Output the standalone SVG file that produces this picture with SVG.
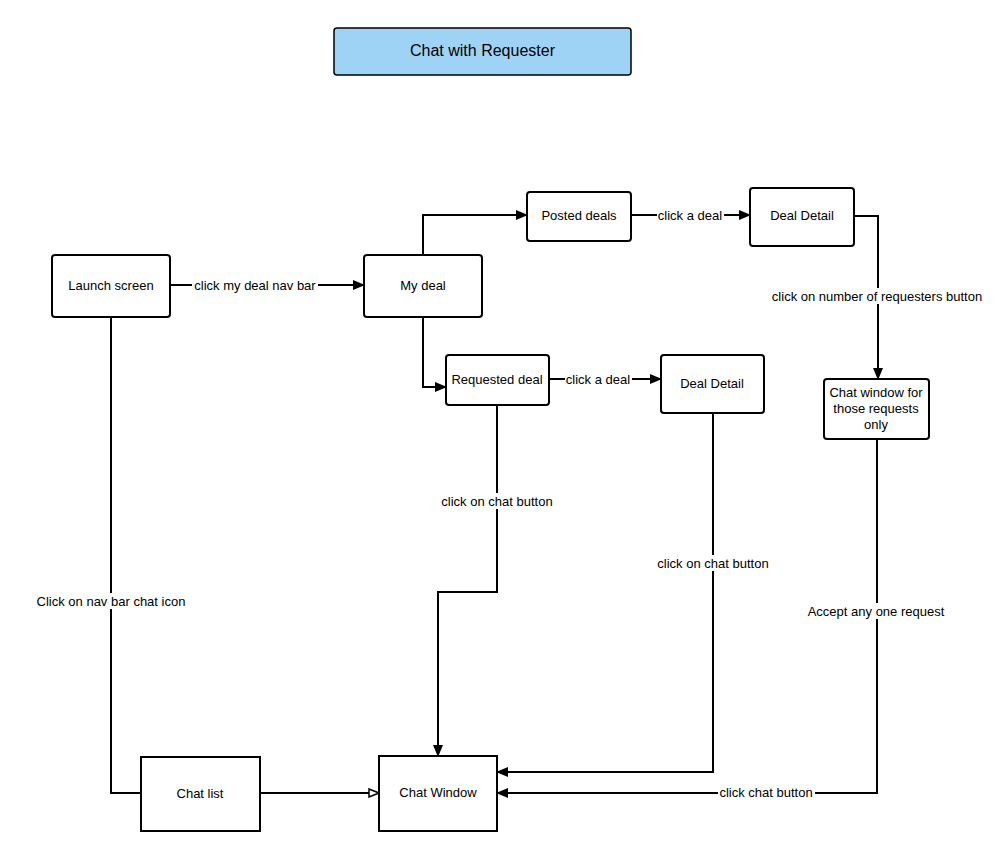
<svg xmlns="http://www.w3.org/2000/svg" width="1000" height="868" viewBox="0 0 1000 868">
<style>
.n{fill:#fff;stroke:#000;stroke-width:2}
.t{font-family:"Liberation Sans",Arial,sans-serif;font-size:13px;fill:#000;text-anchor:middle;dominant-baseline:central}
.c{fill:none;stroke:#000;stroke-width:2}
.lb{fill:#fff}
</style>
<defs>
<marker id="a" markerWidth="12" markerHeight="10" refX="11" refY="5" orient="auto" markerUnits="userSpaceOnUse"><path d="M0,0L12,5L0,10z" fill="#000"/></marker>
<marker id="h" markerWidth="12" markerHeight="10" refX="11" refY="5" orient="auto" markerUnits="userSpaceOnUse"><path d="M1,1L11,5L1,9z" fill="#fff" stroke="#000" stroke-width="1.5"/></marker>
</defs>
<rect width="1000" height="868" fill="#fff"/>
<g id="title"><rect x="334" y="28" width="297" height="47" rx="3" fill="#9fd3f6" stroke="#000" stroke-width="1.5"/><text class="t" x="482.5" y="50" style="font-size:16px">Chat with Requester</text></g>
<g id="connectors">
<path class="c" d="M170,285H364" marker-end="url(#a)"/>
<path class="c" d="M423,255V215H527" marker-end="url(#a)"/>
<path class="c" d="M423,317V387H446" marker-end="url(#a)"/>
<path class="c" d="M631,215H750" marker-end="url(#a)"/>
<path class="c" d="M549,379H661" marker-end="url(#a)"/>
<path class="c" d="M854,216H878V379" marker-end="url(#a)"/>
<path class="c" d="M497,405V592H438V756" marker-end="url(#a)"/>
<path class="c" d="M713,413V772H497" marker-end="url(#a)"/>
<path class="c" d="M877,439V793H497" marker-end="url(#a)"/>
<path class="c" d="M111,317V793H141"/>
<path class="c" d="M260,793H379" marker-end="url(#h)"/>
<rect class="lb" x="192" y="277" width="126" height="16"/><text class="t" x="255" y="285">click my deal nav bar</text>
<rect class="lb" x="657" y="207" width="67" height="16"/><text class="t" x="690" y="215">click a deal</text>
<rect class="lb" x="565" y="371" width="67" height="16"/><text class="t" x="598" y="379">click a deal</text>
<rect class="lb" x="770" y="288" width="215" height="16"/><text class="t" x="877" y="296">click on number of requesters button</text>
<rect class="lb" x="440" y="493" width="115" height="16"/><text class="t" x="497" y="501">click on chat button</text>
<rect class="lb" x="656" y="555" width="115" height="16"/><text class="t" x="713" y="563">click on chat button</text>
<rect class="lb" x="806" y="603" width="141" height="16"/><text class="t" x="876" y="611">Accept any one request</text>
<rect class="lb" x="718" y="784" width="97" height="16"/><text class="t" x="766" y="792">click chat button</text>
<rect class="lb" x="35" y="593" width="153" height="16"/><text class="t" x="111" y="601">Click on nav bar chat icon</text>
</g>
<g id="launch"><rect class="n" x="52" y="255" width="118" height="62" rx="3"/><text class="t" x="111" y="285">Launch screen</text></g>
<g id="mydeal"><rect class="n" x="364" y="255" width="118" height="62" rx="3"/><text class="t" x="423" y="285">My deal</text></g>
<g id="posted"><rect class="n" x="527" y="192" width="104" height="49" rx="3"/><text class="t" x="579" y="215">Posted deals</text></g>
<g id="dd1"><rect class="n" x="750" y="188" width="104" height="58" rx="3"/><text class="t" x="802" y="215">Deal Detail</text></g>
<g id="requested"><rect class="n" x="446" y="355" width="103" height="50" rx="3"/><text class="t" x="497" y="379">Requested deal</text></g>
<g id="dd2"><rect class="n" x="661" y="355" width="103" height="58" rx="3"/><text class="t" x="712" y="383">Deal Detail</text></g>
<g id="chatfor"><rect class="n" x="824" y="379" width="105" height="60" rx="3"/><text class="t" x="876" y="392">Chat window for</text><text class="t" x="876" y="408">those requests</text><text class="t" x="876" y="424">only</text></g>
<g id="chatlist"><rect class="n" x="141" y="757" width="119" height="74"/><text class="t" x="200" y="793">Chat list</text></g>
<g id="chatwindow"><rect class="n" x="379" y="756" width="118" height="75"/><text class="t" x="438" y="792">Chat Window</text></g>
</svg>
